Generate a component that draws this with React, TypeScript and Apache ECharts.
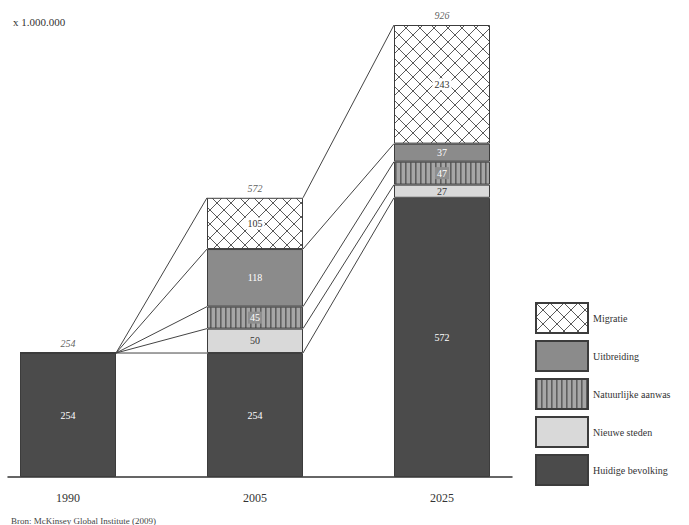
import React, { useEffect, useRef } from "react";
import * as echarts from "echarts";

const years = ["1990", "2005", "2025"];
const huidige = [254, 254, 572];
const nieuweSteden = [0, 50, 27];
const natuurlijk = [0, 45, 47];
const uitbreiding = [0, 118, 37];
const migratie = [0, 105, 243];
const totals = [254, 572, 926];
const seriesNames = ["Huidige bevolking", "Nieuwe steden", "Natuurlijke aanwas", "Uitbreiding", "Migratie"];
const legendOrder = ["Migratie", "Uitbreiding", "Natuurlijke aanwas", "Nieuwe steden", "Huidige bevolking"];

const FONT = "'Liberation Serif', 'DejaVu Serif', serif";
const BAR_W = 96;

function svgUrl(s: string) {
  return "data:image/svg+xml;charset=utf-8," + encodeURIComponent(s);
}

const crossHatch = {
  image: svgUrl(
    "<svg xmlns='http://www.w3.org/2000/svg' width='14' height='14'><rect width='14' height='14' fill='#ffffff'/><path d='M-1 -1L15 15M15 -1L-1 15' stroke='#5a5a5a' stroke-width='1'/></svg>"
  ),
  repeat: "repeat",
  imageWidth: 14,
  imageHeight: 14,
};
const stripes = {
  image: svgUrl(
    "<svg xmlns='http://www.w3.org/2000/svg' width='5' height='5'><rect width='5' height='5' fill='#a6a6a6'/><rect x='0' width='1.6' height='5' fill='#5e5e5e'/></svg>"
  ),
  repeat: "repeat",
  imageWidth: 5,
  imageHeight: 5,
};

export default function App() {
  const ref = useRef<HTMLDivElement>(null);
  useEffect(() => {
    if (!ref.current) return;
    const chart = echarts.init(ref.current, null, { renderer: "svg" });
    const valuesBySeries = [huidige, nieuweSteden, natuurlijk, uitbreiding, migratie];
    const colors: any[] = ["#4b4b4b", "#d9d9d9", stripes, "#8b8b8b", crossHatch];
    const labelStyles: any[] = [
      { color: "#ffffff" },
      { color: "#333333" },
      { color: "#ffffff", backgroundColor: "#8e8e8e", padding: [1, 2] },
      { color: "#ffffff" },
      { color: "#333333", backgroundColor: "#ffffff", padding: [1, 2] },
    ];

    const cums = years.map((_, i) => {
      const arr: number[] = [];
      let c = 0;
      valuesBySeries.forEach((vals) => {
        c += vals[i];
        arr.push(c);
      });
      return arr;
    });
    const connectors: number[][] = [];
    for (let i = 0; i < years.length - 1; i++) {
      cums[i].forEach((c, k) => {
        connectors.push([i, c, i + 1, cums[i + 1][k]]);
      });
    }

    const barSeries = seriesNames.map((name, s) => ({
      name,
      type: "bar",
      stack: "total",
      barWidth: BAR_W,
      clip: false,
      xAxisIndex: 0,
      yAxisIndex: 0,
      data: valuesBySeries[s].map((v) => ({ value: v, label: { show: v > 0 } })),
      itemStyle: { color: colors[s], borderColor: "#3c3c3c", borderWidth: 1 },
      label: {
        show: true,
        position: "inside",
        fontFamily: FONT,
        fontSize: 10,
        ...labelStyles[s],
        formatter: (p: any) => String(p.value),
      },
      z: 3,
    }));

    chart.setOption({
      animation: false,
      title: [
        {
          text: "x 1.000.000",
          left: 8,
          top: 11,
          textStyle: { fontFamily: FONT, fontSize: 11, fontWeight: "normal", color: "#333" },
        },
        {
          text: "Bron: McKinsey Global Institute (2009)",
          left: 6,
          top: 511,
          textStyle: { fontFamily: FONT, fontSize: 9, fontWeight: "normal", color: "#444" },
        },
      ],
      legend: {
        data: legendOrder,
        orient: "vertical",
        left: 530,
        top: 297,
        itemWidth: 52,
        itemHeight: 30,
        itemGap: 6,
        icon: "rect",
        textStyle: { fontFamily: FONT, fontSize: 10, color: "#333" },
        selectedMode: false,
      },
      grid: [
        { left: 68, right: 247, top: 25, bottom: 48 },
        { left: 8, right: 177, top: 25, bottom: 48 },
      ],
      xAxis: [
        {
          type: "category",
          gridIndex: 0,
          data: years,
          boundaryGap: false,
          axisLine: { show: false },
          axisTick: { show: false },
          axisLabel: { fontFamily: FONT, fontSize: 12, color: "#333", margin: 15 },
        },
        {
          type: "value",
          gridIndex: 1,
          min: 0,
          max: 1,
          axisLine: { show: true, onZero: false, lineStyle: { color: "#333", width: 1.5 } },
          axisTick: { show: false },
          axisLabel: { show: false },
          splitLine: { show: false },
        },
      ],
      yAxis: [
        { type: "value", gridIndex: 0, min: 0, max: 926, show: false },
        { type: "value", gridIndex: 1, min: 0, max: 1, show: false },
      ],
      series: [
        {
          name: "connectors",
          type: "custom",
          xAxisIndex: 0,
          yAxisIndex: 0,
          data: connectors,
          encode: { x: [0, 2], y: [1, 3] },
          z: 1,
          silent: true,
          renderItem: (params: any, api: any) => {
            const p1 = api.coord([api.value(0), api.value(1)]);
            const p2 = api.coord([api.value(2), api.value(3)]);
            return {
              type: "line",
              shape: { x1: p1[0] + BAR_W / 2, y1: p1[1], x2: p2[0] - BAR_W / 2, y2: p2[1] },
              style: { stroke: "#444", lineWidth: 1 },
            };
          },
        },
        ...barSeries,
        {
          name: "totaal",
          type: "scatter",
          xAxisIndex: 0,
          yAxisIndex: 0,
          clip: false,
          data: totals.map((t, i) => [i, t]),
          symbolSize: 1,
          itemStyle: { color: "rgba(0,0,0,0)" },
          label: {
            show: true,
            position: "top",
            distance: 4,
            fontFamily: FONT,
            fontSize: 10,
            fontStyle: "italic",
            color: "#333",
            formatter: (p: any) => String(p.value[1]),
          },
          z: 4,
        },
      ],
    });
    return () => chart.dispose();
  }, []);
  return (
    <div
      ref={ref}
      style={{ position: "fixed", left: 0, top: 0, width: 689, height: 525, background: "#fff" }}
    />
  );
}
